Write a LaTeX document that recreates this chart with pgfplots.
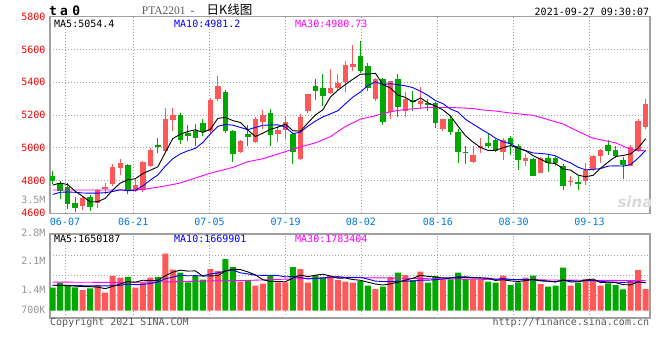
\documentclass[border=0pt]{standalone}
\usepackage{fontspec}
\usepackage{pgfplots}
\usepackage{pgfplotstable}
\pgfplotsset{compat=1.18}
\setmainfont{DejaVu Sans Mono}
\newfontfamily\cjk{Noto Sans CJK SC}
\newfontfamily\ptafont{Liberation Serif}
\newfontfamily\sinafont{DejaVu Sans}
\definecolor{upred}{RGB}{255,88,88}
\definecolor{dngreen}{RGB}{0,168,0}
\definecolor{boxgray}{RGB}{160,160,160}
\definecolor{gridgray}{RGB}{165,165,165}
\definecolor{labgray}{RGB}{150,150,150}
\definecolor{datblue}{RGB}{0,120,230}
\definecolor{mag}{RGB}{255,0,255}
\definecolor{txtgray}{RGB}{90,90,90}
\newcommand\mono{\fontsize{10bp}{12bp}\selectfont}

\pgfplotstableread{
i O H L C
4 4642 4707 4620 4695
6 4662 4750 4633 4740
7 4750 4784 4720 4756
8 4780 4900 4767 4883
9 4877 4932 4833 4906
11 4738 4810 4728 4773
12 4745 4918 4730 4912
13 4888 5000 4884 4986
15 4980 5240 4975 5176
16 5167 5242 5105 5199
21 5101 5302 5093 5293
22 5299 5438 5286 5378
25 4975 5048 4967 5041
27 5036 5190 5030 5178
28 5157 5229 5113 5202
30 5081 5133 5036 5107
31 5108 5196 5052 5158
33 4930 5209 4927 5190
34 5223 5330 5215 5329
37 5337 5480 5326 5364
38 5367 5452 5346 5396
39 5404 5530 5343 5505
40 5495 5628 5470 5510
43 5296 5428 5286 5422
45 5219 5407 5178 5407
47 5225 5340 5190 5296
49 5266 5373 5235 5286
52 5117 5178 5103 5178
56 4915 5012 4910 4955
57 4996 5062 4967 5012
60 4975 5062 4927 5046
63 4920 4960 4886 4935
65 4844 4945 4844 4935
69 4790 4830 4764 4795
71 4799 4910 4773 4864
72 4870 4955 4860 4951
73 4951 4992 4910 4987
77 4886 5016 4886 5002
78 4981 5178 4975 5164
79 5129 5300 5113 5265
}\redc

\pgfplotstableread{
i O H L C
0 4830 4858 4779 4800
1 4786 4800 4685 4736
2 4760 4784 4627 4654
3 4664 4700 4610 4630
5 4698 4712 4617 4636
10 4895 4900 4716 4738
14 5016 5057 4970 5007
17 5203 5210 5023 5045
18 5089 5140 5041 5071
19 5101 5148 5013 5057
20 5152 5178 5073 5098
23 5343 5351 5093 5101
24 5105 5107 4914 4960
26 5082 5137 5012 5063
29 5212 5235 5010 5078
32 5086 5087 4900 4975
35 5378 5420 5291 5348
36 5364 5452 5255 5318
41 5560 5650 5455 5470
42 5500 5520 5345 5365
44 5422 5428 5140 5160
46 5417 5448 5188 5251
48 5290 5346 5225 5280
50 5276 5300 5225 5259
51 5276 5280 5123 5150
53 5178 5194 5077 5097
54 5097 5113 4910 4975
55 4973 5012 4900 4968
58 5028 5093 4996 5008
59 5046 5052 4975 4981
61 5058 5073 4955 5022
62 5010 5022 4865 4927
64 4930 4940 4825 4830
66 4940 4960 4855 4910
67 4935 4950 4890 4910
68 4890 4900 4744 4768
70 4788 4830 4740 4780
74 5016 5046 4955 4981
75 4985 5008 4935 4951
76 4925 4941 4809 4894
}\greenc

\pgfplotstableread{
i m5 m10
0 4772 4715
1 4785 4728
2 4775 4730
3 4735 4728
4 4703.0 4724
5 4670.2 4723
6 4671.0 4723
7 4691.4 4726
8 4742.0 4733
9 4784.2 4743.6
10 4804.6 4737.4
11 4811.2 4741.1
12 4842.4 4766.9
13 4863.0 4802.5
14 4883.2 4833.7
15 4970.8 4887.7
16 5056.0 4933.6
17 5082.6 4962.5
18 5099.6 4981.3
19 5109.6 4996.4
20 5094.0 5032.4
21 5112.8 5084.4
22 5179.4 5131.0
23 5185.4 5142.5
24 5166.0 5137.8
25 5154.6 5124.3
26 5108.6 5110.7
27 5068.6 5124.0
28 5088.8 5137.1
29 5112.4 5139.2
30 5125.6 5140.1
31 5144.6 5126.6
32 5104.0 5086.3
33 5101.6 5095.2
34 5151.8 5132.1
35 5200.0 5162.8
36 5232.0 5188.3
37 5309.8 5206.9
38 5351.0 5226.3
39 5386.2 5269.0
40 5418.6 5309.3
41 5449.0 5340.5
42 5449.2 5379.5
43 5454.4 5402.7
44 5385.4 5385.8
45 5364.8 5391.7
46 5321.0 5385.0
47 5307.2 5378.2
48 5278.8 5366.6
49 5304.0 5344.7
50 5274.4 5319.6
51 5254.2 5287.6
52 5230.6 5268.9
53 5194.0 5236.4
54 5131.8 5217.9
55 5073.6 5174.0
56 5034.6 5144.4
57 5001.4 5116.0
58 4983.6 5088.8
59 4984.8 5058.3
60 5000.4 5037.0
61 5013.8 5024.2
62 4996.8 4999.1
63 4982.2 4982.9
64 4952.0 4968.4
65 4929.8 4965.1
66 4907.4 4960.6
67 4904.0 4950.4
68 4870.6 4926.4
69 4863.6 4907.8
70 4832.6 4881.2
71 4823.4 4865.4
72 4831.6 4867.8
73 4875.4 4873.0
74 4912.6 4888.1
75 4946.8 4889.7
76 4952.8 4888.1
77 4963.0 4897.3
78 4998.4 4936.9
79 5055.2 4983.9
}\matab

\pgfplotstableread{
i m30
0 4742
5 4742
10 4742
12 4745
15 4767
17 4785
19 4815
21 4845
24 4880
26 4915
28 4933
30 4962
33 5005
35 5030
37 5068
39 5130
41 5175
43 5195
44 5210
46 5228
48 5238
50 5246
53 5246
56 5240
57 5232
59 5224
61 5212
64 5198
66 5172
68 5145
70 5100
72 5058
75 5030
77 4990
79 4981
}\mathirty

\pgfplotstableread{
i v
4 20.7
6 25.7
7 18.0
8 34.7
9 33.0
11 23.0
12 28.0
13 33.0
15 57.0
16 41.0
21 41.7
22 39.7
25 29.0
27 25.0
28 27.0
30 28.4
31 28.4
33 41.7
34 28.0
37 34.7
38 30.7
39 29.0
40 28.0
43 21.7
45 33.7
47 35.7
49 39.0
52 31.4
56 31.4
57 31.4
60 35.0
63 33.0
65 26.7
69 25.0
71 31.7
72 30.7
73 25.0
77 29.7
78 40.7
79 21.7
}\volr

\pgfplotstableread{
i v
0 23.0
1 28.0
2 25.7
3 23.4
5 22.4
10 33.7
14 33.7
17 38.0
18 28.4
19 34.7
20 31.0
23 51.7
24 43.7
26 30.0
29 35.7
32 43.7
35 35.7
36 33.4
41 29.7
42 25.0
44 24.0
46 38.0
48 30.7
50 28.0
51 34.7
53 31.4
54 38.0
55 31.7
58 29.0
59 28.0
61 25.7
62 28.4
64 35.0
66 24.0
67 25.0
68 43.0
70 28.0
74 27.4
75 25.7
76 21.4
}\volg

\pgfplotstableread{
i v5 v10
0 25.5 25.5
1 25.3 25.5
2 25.0 25.3
3 24.6 25.2
4 24.16 25.0
5 24.04 24.8
6 23.58 24.8
7 22.04 24.8
8 24.30 25.0
9 26.76 25.46
10 29.02 26.53
11 28.48 26.03
12 30.48 26.26
13 30.14 27.22
14 30.28 28.52
15 34.94 31.98
16 38.54 33.51
17 40.54 35.51
18 39.62 34.88
19 39.82 35.05
20 34.62 34.78
21 34.76 36.65
22 35.10 37.82
23 39.76 39.69
24 41.56 40.69
25 41.16 37.89
26 38.82 36.79
27 35.88 35.49
28 30.94 35.35
29 29.34 35.45
30 29.22 35.19
31 28.90 33.86
32 32.64 34.26
33 35.58 33.26
34 34.04 31.69
35 35.50 32.36
36 36.50 32.70
37 34.70 33.67
38 32.50 34.04
39 32.70 33.37
40 31.16 33.33
41 30.42 33.46
42 28.48 31.59
43 26.68 29.59
44 25.68 29.19
45 26.82 28.99
46 28.48 29.45
47 30.62 29.55
48 32.42 29.55
49 35.42 30.55
50 34.28 30.55
51 33.62 31.05
52 32.76 31.69
53 32.90 32.66
54 32.70 34.06
55 33.44 33.86
56 32.78 33.20
57 32.78 32.77
58 32.30 32.60
59 30.30 31.50
60 30.96 32.20
61 29.82 31.30
62 29.22 31.00
63 30.02 31.16
64 31.42 30.86
65 29.76 30.36
66 29.42 29.62
67 28.74 28.98
68 30.74 30.38
69 28.74 30.08
70 29.00 29.38
71 30.54 29.98
72 31.68 30.21
73 28.08 29.41
74 28.56 28.65
75 28.10 28.55
76 26.04 28.29
77 25.84 28.76
78 28.98 28.53
79 27.84 28.20
}\volma

\pgfplotstableread{
i v30
0 28.6
8 28.3
14 28.6
20 29.6
26 30.3
30 31.3
34 32.3
38 33.2
44 32.8
50 32.0
56 31.5
62 31.0
68 30.6
74 30.3
79 30.1
}\volthirty

\pgfplotsset{
  candle/.style n args={2}{draw=none, mark=none, forget plot,
    error bars/.cd, y dir=plus, y explicit, error mark=none,
    error bar style={draw=#1, line width=#2, solid}},
}

\begin{document}
\begin{tikzpicture}
\fill[white] (0,0) rectangle (660bp,360bp);
\useasboundingbox (0,0) rectangle (660bp,360bp);

% ---------- price panel ----------
\begin{axis}[
  at={(50bp,146.7bp)}, anchor=south west,
  scale only axis, width=600bp, height=196.6bp,
  xmin=-0.36, xmax=79.58, ymin=4600, ymax=5800,
  axis line style={boxgray, line width=1.2bp},
  major tick length=0pt,
  xtick={1.64,10.73,20.89,31.04,41.07,51.31,61.42,71.52},
  xticklabels={06-07,06-21,07-05,07-19,08-02,08-16,08-30,09-13},
  ytick={4600,4800,5000,5200,5400,5600,5800},
  yticklabels={4600,4800,5000,5200,5400,5600,5800},
  extra y ticks={4684},
  extra y tick labels={\textcolor{labgray}{3.5M}},
  extra y tick style={grid=none},
  grid=major,
  major grid style={gridgray, line width=0.8bp, dash pattern=on 1bp off 2bp},
  xticklabel style={font=\mono, text=datblue, anchor=north, inner sep=0pt, yshift=-4.2bp},
  yticklabel style={font=\mono, text=red, anchor=east, inner sep=0pt, xshift=-4.3bp},
]
% wicks
\addplot[candle={upred}{1bp}]
  table[x=i, y=L, y error expr=\thisrow{H}-\thisrow{L}] {\redc};
\addplot[candle={dngreen}{1bp}]
  table[x=i, y=L, y error expr=\thisrow{H}-\thisrow{L}] {\greenc};
% bodies
\addplot[candle={upred}{5.5bp}]
  table[x=i, y=O, y error expr={max(\thisrow{C}-\thisrow{O},8)}] {\redc};
\addplot[candle={dngreen}{5.5bp}]
  table[x=i, y=C, y error expr={max(\thisrow{O}-\thisrow{C},8)}] {\greenc};
% moving averages
\addplot[mag, line width=0.9bp, mark=none] table[x=i, y=m30] {\mathirty};
\addplot[blue, line width=0.9bp, mark=none] table[x=i, y=m10] {\matab};
\addplot[black, line width=0.9bp, mark=none] table[x=i, y=m5] {\matab};
\end{axis}

% ---------- volume panel ----------
\begin{axis}[
  at={(50bp,42bp)}, anchor=south west,
  scale only axis, width=600bp, height=84bp,
  xmin=-0.36, xmax=79.58, ymin=-7.3, ymax=76.7,
  axis line style={boxgray, line width=1.2bp},
  major tick length=0pt,
  xtick={1.64,10.73,20.89,31.04,41.07,51.31,61.42,71.52},
  xticklabels={,,,,,,,},
  ytick={15.7,35.7,55},
  yticklabels={,,},
  extra y ticks={0.7,20.7,50,76.7},
  extra y tick labels={700K,1.4M,2.1M,\raisebox{3bp}{2.8M}},
  extra y tick style={grid=none},
  grid=major,
  major grid style={gridgray, line width=0.8bp, dash pattern=on 1bp off 2bp},
  yticklabel style={font=\mono, text=labgray, anchor=east, inner sep=0pt, xshift=-4.3bp},
]
\addplot[ybar, bar width=6bp, bar shift=0pt, fill=upred, draw=none] table[x=i, y=v] {\volr};
\addplot[ybar, bar width=6bp, bar shift=0pt, fill=dngreen, draw=none] table[x=i, y=v] {\volg};
\addplot[mag, line width=0.9bp, mark=none] table[x=i, y=v30] {\volthirty};
\addplot[blue, line width=0.9bp, mark=none] table[x=i, y=v10] {\volma};
\addplot[black, line width=0.9bp, mark=none] table[x=i, y=v5] {\volma};
\end{axis}

% ---------- texts ----------
\node[anchor=base west, inner sep=0pt, font=\fontsize{13bp}{14bp}\selectfont\bfseries] at (49bp,344bp) {t\hspace{3bp}a\hspace{4.5bp}0};
\node[anchor=base west, inner sep=0pt, font=\ptafont\fontsize{11.5bp}{12bp}\selectfont, text=txtgray] at (141.7bp,345bp) {PTA2201\hspace{5bp}-};
\node[anchor=base west, inner sep=0pt, font=\cjk\fontsize{12.5bp}{14bp}\selectfont] at (206.5bp,345.5bp) {日K线图};
\node[anchor=base east, inner sep=0pt, font=\mono] at (649.3bp,344bp) {2021-09-27 09:30:07};

\node[anchor=base west, inner sep=0pt, font=\mono] at (54bp,332bp) {MA5:5054.4};
\node[anchor=base west, inner sep=0pt, font=\mono, text=blue] at (174bp,332bp) {MA10:4981.2};
\node[anchor=base west, inner sep=0pt, font=\mono, text=mag] at (295bp,332bp) {MA30:4980.73};

\node[anchor=base west, inner sep=0pt, font=\mono] at (54bp,117.3bp) {MA5:1650187};
\node[anchor=base west, inner sep=0pt, font=\mono, text=blue] at (174bp,117.3bp) {MA10:1669901};
\node[anchor=base west, inner sep=0pt, font=\mono, text=mag] at (295bp,117.3bp) {MA30:1783404};

\node[anchor=base west, inner sep=0pt, font=\mono, text=txtgray] at (50bp,35bp) {Copyright 2021 SINA.COM};
\node[anchor=base east, inner sep=0pt, font=\mono, text=txtgray] at (649.3bp,35bp) {http://finance.sina.com.cn};

\node[inner sep=0pt, font=\sinafont\bfseries\itshape\fontsize{15bp}{15bp}\selectfont, text=gray!30] at (635bp,158bp) {sina};
\end{tikzpicture}
\end{document}
